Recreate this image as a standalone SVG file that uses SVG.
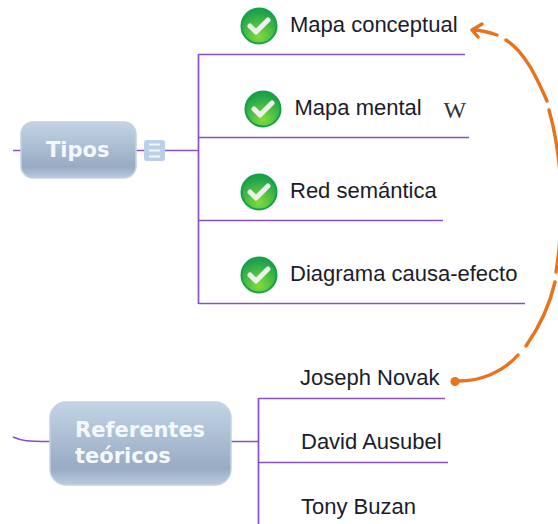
<svg xmlns="http://www.w3.org/2000/svg" width="558" height="524" viewBox="0 0 558 524">
<style>
.ln{fill:none;stroke:#8a4fc0;stroke-width:1.7}
.rel{fill:none;stroke:#e8731a;stroke-width:3.400;stroke-linecap:round;stroke-linejoin:round}
.t{font-family:"Liberation Sans",Arial,sans-serif;font-size:22px;fill:#1c1c2a}
.b{font-family:"DejaVu Sans",Verdana,sans-serif;font-weight:700;font-size:21px;fill:#f4f8fc}
.node{fill:url(#nf);stroke:#c3d2e2;stroke-width:1.5}
.ck{fill:none;stroke:#eef0ec;stroke-width:5;stroke-linecap:round;stroke-linejoin:round}
.cc{fill:url(#gf);stroke:#16a04a;stroke-width:2}
</style>
<defs>
<linearGradient id="nf" x1="0" y1="0" x2="0" y2="1">
<stop offset="0" stop-color="#c3d4e6"/><stop offset="0.8" stop-color="#98abc3"/><stop offset="1" stop-color="#b9cbdf"/>
</linearGradient>
<radialGradient id="gf" cx="0.5" cy="0.8" r="0.7">
<stop offset="0" stop-color="#7fdc3c"/><stop offset="1" stop-color="#1ea34a"/>
</radialGradient>
<g id="check"><circle class="cc" r="17.5"/><path class="ck" d="M-9 0L-3 6L9 -6"/></g>
</defs>
<g id="connectors">
<path class="ln" d="M13 150.500H21M136 150.500H144M165 150.500H198.500M198.500 54V304M198.500 54.500H465M198.500 137.500H469M198.500 220.500H443M198.500 303.500H525"/>
<path class="ln" d="M13 437C22 441 27 441.500 50 441.500M231 441.500H258.500M258.500 398V524M258.500 398.500H445M258.500 462.500H448"/>
<path class="rel" d="M455 381C480 382 503 372 518 355M526 346C540 326 550 304 555 282M556 272C562 235 566 170 549 110M547 101C537 78 525 52 506 40M497 35C488 32 480 30 472 30M482 24L472 30L478 37"/>
<circle cx="455" cy="381.500" r="4.500" fill="#e8731a"/>
</g>
<g id="tipos">
<rect class="node" x="21" y="122" width="115" height="56" rx="12"/>
<text class="b" x="46" y="156.500">Tipos</text>
</g>
<g id="tipos-notes">
<rect x="144" y="140" width="21" height="21" rx="3" fill="#bccfe8"/>
<path d="M149 144.500H160M149 150.500H160M149 156.500H160" stroke="#f4f7fb" stroke-width="2" fill="none"/>
</g>
<g id="mapa-conceptual">
<use href="#check" x="259" y="26"/>
<text class="t" x="290" y="31.500">Mapa conceptual</text>
</g>
<g id="mapa-mental">
<use href="#check" x="263" y="109"/>
<text class="t" x="294.500" y="114.500">Mapa mental</text>
<text x="443.500" y="118" font-family="Liberation Serif,serif" font-size="24" fill="#333">W</text>
</g>
<g id="red-semantica">
<use href="#check" x="259" y="192"/>
<text class="t" x="290" y="197.500">Red semántica</text>
</g>
<g id="diagrama">
<use href="#check" x="259" y="275"/>
<text class="t" x="290" y="280.500">Diagrama causa-efecto</text>
</g>
<g id="referentes">
<rect class="node" x="50" y="402" width="181" height="83" rx="16"/>
<text class="b" x="75" y="436.500">Referentes</text>
<text class="b" x="75" y="462.500">teóricos</text>
</g>
<g id="joseph-novak"><text class="t" x="300" y="385">Joseph Novak</text></g>
<g id="david-ausubel"><text class="t" x="301" y="449">David Ausubel</text></g>
<g id="tony-buzan"><text class="t" x="301" y="514">Tony Buzan</text></g>
</svg>
